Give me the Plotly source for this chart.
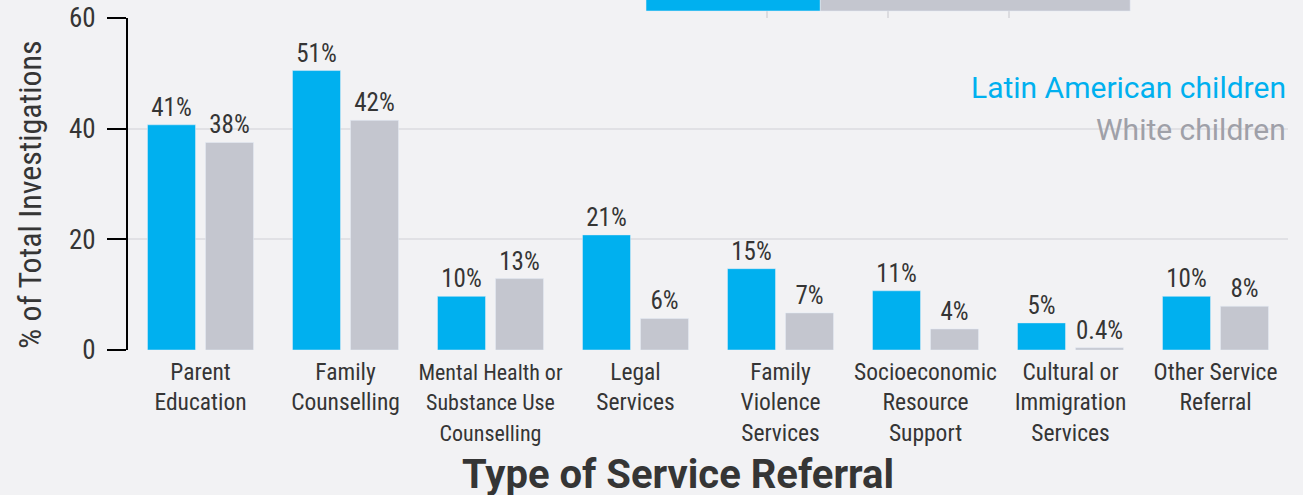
import plotly.graph_objects as go

# service referral categories
categories = [
    "Parent<br>Education",
    "Family<br>Counselling",
    "<span style='font-size:22px'>Mental Health or<br>Substance Use<br>Counselling</span>",
    "Legal<br>Services",
    "Family<br>Violence<br>Services",
    "Socioeconomic<br>Resource<br>Support",
    "Cultural or<br>Immigration<br>Services",
    "Other Service<br>Referral",
]

# % of total investigations
latin_values = [40.7, 50.5, 9.7, 20.8, 14.7, 10.7, 4.9, 9.7]
latin_labels = ["41%", "51%", "10%", "21%", "15%", "11%", "5%", "10%"]
white_values = [37.5, 41.5, 12.9, 5.7, 6.7, 3.8, 0.4, 7.9]
white_labels = ["38%", "42%", "13%", "6%", "7%", "4%", "0.4%", "8%"]

# cut-off stacked bar from the chart above
top_segments = ["Latin American children", "White children"]
top_values = [36, 64]
top_ticks = [25, 50, 75]

BLUE = "#00b0ef"
GREY = "#c4c6cf"
TEXT = "#353535"
BG = "#f2f2f4"
FONT = "Roboto Condensed, Roboto, sans-serif"

fig = go.Figure()

# main grouped bars
fig.add_trace(go.Bar(x=categories, y=latin_values, text=latin_labels, name="Latin American children",
                     marker_color=BLUE, textposition="outside", cliponaxis=False,
                     textfont=dict(size=25, color=TEXT, family=FONT)))
fig.add_trace(go.Bar(x=categories, y=white_values, text=white_labels, name="White children",
                     marker_color=GREY, textposition="outside", cliponaxis=False,
                     textfont=dict(size=25, color=TEXT, family=FONT)))

# fragment at the top edge
base = 0
for seg, val, col in zip(top_segments, top_values, [BLUE, GREY]):
    fig.add_trace(go.Bar(x=[val], y=[13], base=base, width=12, offset=-6, orientation="h",
                         marker_color=col, xaxis="x2", yaxis="y2", hoverinfo="skip", name=seg))
    base += val

fig.update_layout(
    width=1303, height=495,
    paper_bgcolor=BG, plot_bgcolor=BG,
    margin=dict(l=128, r=15, t=0, b=145, autoexpand=False),
    barmode="group", bargap=0.2, bargroupgap=0.172,
    showlegend=False,
    font=dict(family=FONT, color=TEXT),
    xaxis=dict(domain=[0, 1], anchor="y", showgrid=False, showline=False, zeroline=False,
               automargin=False, tickfont=dict(size=23.5, color=TEXT, family=FONT), ticks="",
               ticklabelstandoff=5),
    yaxis=dict(domain=[0, 0.9486], anchor="x", range=[0, 60], tickvals=[0, 20, 40, 60],
               showgrid=True, gridcolor="#e1e1e5", gridwidth=2, zeroline=False,
               showline=True, linecolor="black", linewidth=2, automargin=False,
               ticks="outside", ticklen=19, tickwidth=2, tickcolor="black",
               tickfont=dict(size=27, color=TEXT, family=FONT), ticklabelstandoff=6),
    xaxis2=dict(domain=[0, 1], anchor="y2", range=[-107, 132.6], tickvals=top_ticks,
                showgrid=True, gridcolor="#dcdce0", gridwidth=2, showticklabels=False,
                zeroline=False, showline=False, automargin=False),
    yaxis2=dict(domain=[0.9486, 1], anchor="x2", range=[0, 18], visible=False, automargin=False),
)

# y axis title
fig.add_annotation(text="% of Total Investigations", xref="paper", yref="paper", x=-0.0845, y=0.4457,
                   xanchor="center", yanchor="middle", textangle=-90, showarrow=False,
                   font=dict(size=32, color=TEXT, family=FONT))

# colour-coded legend text
fig.add_annotation(text="Latin American children", xref="paper", yref="paper", x=1.0, y=0.749,
                   xanchor="right", yanchor="middle", showarrow=False,
                   font=dict(size=30, color=BLUE, family="Roboto"))
fig.add_annotation(text="White children", xref="paper", yref="paper", x=1.0, y=0.629,
                   xanchor="right", yanchor="middle", showarrow=False,
                   font=dict(size=30, color="#9fa0a8", family="Roboto"))

# x axis title
fig.add_annotation(text="<b>Type of Service Referral</b>", xref="paper", yref="paper", x=0.474, y=-0.357,
                   xanchor="center", yanchor="middle", showarrow=False,
                   font=dict(size=40, color=TEXT, family="Roboto"))

fig.write_html("out.html", config={"displayModeBar": False},
               post_script="document.body.style.margin='0';")
